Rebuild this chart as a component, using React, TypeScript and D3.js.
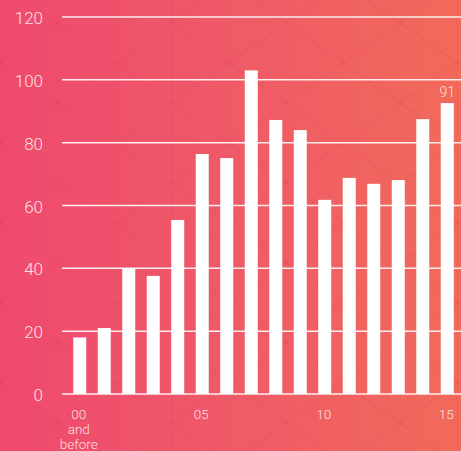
import React from "react";
import * as d3 from "d3";

const categories = ["00", "01", "02", "03", "04", "05", "06", "07", "08", "09", "10", "11", "12", "13", "14", "15"];
const values = [18, 21, 40, 37.6, 55.4, 76.4, 75.1, 103, 87.2, 84, 61.8, 68.8, 66.9, 68.1, 87.5, 92.6];
const yTicks = [0, 20, 40, 60, 80, 100, 120];
const xTickLabels: Record<string, string[]> = {
  "00": ["00", "and", "before"],
  "05": ["05"],
  "10": ["10"],
  "15": ["15"],
};
const annotations = [{ category: "15", text: "91" }];

const W = 461;
const H = 451;
const FONT = "Roboto, 'DejaVu Sans', sans-serif";

export default function App() {
  const y = d3.scaleLinear().domain([0, 120]).range([394, 17]);
  const x = d3
    .scaleBand<string>()
    .domain(categories)
    .range([61, 466])
    .paddingInner(0.47)
    .paddingOuter(0.5);

  // decorative background lattice
  const slope = 40 / 57;
  const diagLines: { x1: number; y1: number; x2: number; y2: number }[] = [];
  for (let k = -12; k <= 12; k++) {
    const b = 63 + 80 * k;
    diagLines.push({ x1: 0, y1: b + slope * (0 - 115), x2: W, y2: b + slope * (W - 115) });
    diagLines.push({ x1: 0, y1: b - slope * (0 - 115), x2: W, y2: b - slope * (W - 115) });
  }
  const vLines = d3.range(1, W, 57);

  return (
    <svg
      width={W}
      height={H}
      style={{ position: "fixed", left: 0, top: 0, display: "block" }}
    >
      <defs>
        <linearGradient id="bg" x1="0" y1="0" x2="1" y2="0">
          <stop offset="0%" stopColor="#ef4a6f" />
          <stop offset="50%" stopColor="#ef5a67" />
          <stop offset="100%" stopColor="#f26a5a" />
        </linearGradient>
      </defs>
      <rect x={0} y={0} width={W} height={H} fill="url(#bg)" />
      <g stroke="#d83a50" strokeOpacity={0.09} strokeWidth={2}>
        {diagLines.map((l, i) => (
          <line key={i} {...l} />
        ))}
      </g>
      <g stroke="#d83a50" strokeOpacity={0.06} strokeWidth={2}>
        {vLines.map((vx, i) => (
          <line key={i} x1={vx} x2={vx} y1={0} y2={H} />
        ))}
      </g>

      {/* gridlines */}
      <g>
        {yTicks.map((t) => (
          <line
            key={t}
            x1={62}
            x2={W}
            y1={y(t)}
            y2={y(t)}
            stroke="#ffffff"
            strokeOpacity={0.9}
            strokeWidth={1.5}
          />
        ))}
      </g>

      {/* y tick labels */}
      <g fontFamily={FONT} fontWeight={300} fontSize={17} fill="#ffffff" fillOpacity={0.85} textAnchor="end">
        {yTicks.map((t) => (
          <text key={t} x={43} y={y(t) + 7}>
            {t}
          </text>
        ))}
      </g>

      {/* bars */}
      <g fill="#ffffff">
        {categories.map((c, i) => (
          <rect
            key={c}
            x={x(c)!}
            width={x.bandwidth()}
            y={y(values[i])}
            height={y(0) - y(values[i])}
          />
        ))}
      </g>

      {/* x tick labels */}
      <g fontFamily={FONT} fontWeight={300} fontSize={13.5} fill="#ffffff" fillOpacity={0.85} textAnchor="middle">
        {categories
          .filter((c) => xTickLabels[c])
          .map((c) => (
            <text key={c} x={x(c)! + x.bandwidth() / 2 - 1} y={418.5}>
              {xTickLabels[c].map((ln, j) => (
                <tspan key={j} x={x(c)! + x.bandwidth() / 2 - 1} y={418.5 + j * 15}>
                  {ln}
                </tspan>
              ))}
            </text>
          ))}
      </g>

      {/* annotations */}
      <g fontFamily={FONT} fontWeight={300} fontSize={14} fill="#ffffff" fillOpacity={0.8} textAnchor="middle">
        {annotations.map((a) => {
          const i = categories.indexOf(a.category);
          return (
            <text key={a.category} x={x(a.category)! + x.bandwidth() / 2} y={y(values[i]) - 6}>
              {a.text}
            </text>
          );
        })}
      </g>
    </svg>
  );
}
